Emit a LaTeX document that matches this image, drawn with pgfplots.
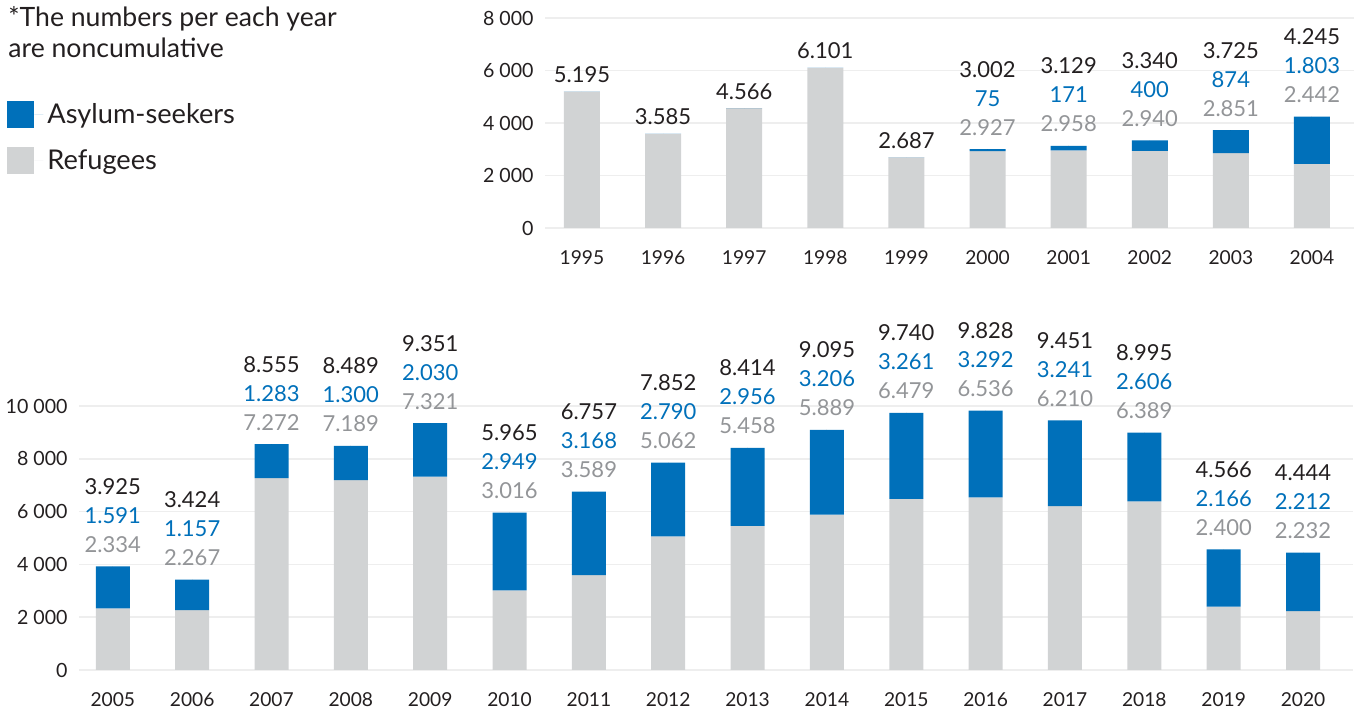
\documentclass[border=0pt]{standalone}
\usepackage{fontspec}
\setmainfont{Lato}
\usepackage{pgfplots}
\pgfplotsset{compat=1.18}
\usepackage{pgfplotstable}

\definecolor{cblue}{HTML}{0070BA}
\definecolor{cgray}{HTML}{D1D3D4}
\definecolor{lgray}{HTML}{939598}
\definecolor{tblack}{HTML}{231F20}
\definecolor{gridc}{HTML}{EEEEEE}

\pgfplotstableread{
x ref asy tot
0 5195 0 5195
1 3585 0 3585
2 4566 0 4566
3 6101 0 6101
4 2687 0 2687
5 2927 75 3002
6 2958 171 3129
7 2940 400 3340
8 2851 874 3725
9 2442 1803 4245
}\topdata

\pgfplotstableread{
x ref asy tot
0 2334 1591 3925
1 2267 1157 3424
2 7272 1283 8555
3 7189 1300 8489
4 7321 2030 9351
5 3016 2949 5965
6 3589 3168 6757
7 5062 2790 7852
8 5458 2956 8414
9 5889 3206 9095
10 6479 3261 9740
11 6536 3292 9828
12 6210 3241 9451
13 6389 2606 8995
14 2400 2166 4566
15 2232 2212 4444
}\botdata

\pgfplotsset{
  base/.style={
    scale only axis, ymin=0, clip=false,
    scaled y ticks=false,
    axis line style={draw=none}, tick style={draw=none},
    ymajorgrids, major grid style={color=gridc, line width=0.75pt},
    /pgf/number format/assume math mode=true,
    /pgf/number format/1000 sep={\ },
    yticklabel style={font=\fontsize{9.8}{11}\selectfont, text=tblack, inner sep=0pt, anchor=east, xshift=-5.5pt},
    xticklabel style={font=\fontsize{9.6}{11}\selectfont, text=tblack, inner sep=0pt, anchor=base, yshift=-18.5pt},
  },
  bars/.style={ybar, stack plots=y, bar shift=0pt, draw=none, line width=0pt},
  lab/.style={forget plot, stack plots=false, only marks, mark=*, mark size=0pt, mark options={draw=none, fill=none},
    point meta=explicit,
    nodes near coords={\pgfmathprintnumber[fixed, precision=0, 1000 sep={.}]{\pgfplotspointmeta}},
    every node near coord/.append style={anchor=base, inner sep=0pt, font=\fontsize{11}{13}\selectfont}},
}

\begin{document}
\begin{tikzpicture}
\useasboundingbox (0pt,0pt) rectangle (679.5pt,355pt);

\node[anchor=base west, inner sep=0pt, text=tblack, font=\fontsize{13.3}{15}\selectfont] at (4pt,341.5pt) {*The numbers per each year};
\node[anchor=base west, inner sep=0pt, text=tblack, font=\fontsize{13.3}{15}\selectfont] at (4pt,326pt) {are noncumulative};

\begin{axis}[base, at={(272.5pt,241pt)}, anchor=south west,
  width=404.5pt, height=105pt, ymax=8000,
  xmin=-0.456, xmax=9.518,
  ytick={0,2000,4000,6000,8000},
  xtick={0,...,9},
  xticklabels={1995,1996,1997,1998,1999,2000,2001,2002,2003,2004},
  bar width=18pt,
  legend style={at={(axis description cs:-0.665,0.614)}, anchor=north west,
    draw=none, fill=none, inner sep=0pt, row sep=7.5pt,
    font=\fontsize{13.6}{15}\selectfont, text=tblack,
    cells={anchor=west}},
  legend image code/.code={\fill[#1] (0pt,-6.75pt) rectangle (13.5pt,6.75pt); \path (13.5pt,0pt) -- (18pt,0pt);},
  reverse legend,
]
\addplot[bars, fill=cgray] table[x=x, y=ref]{\topdata};
\addlegendentry{Refugees}
\addplot[bars, fill=cblue] table[x=x, y=asy]{\topdata};
\addlegendentry{Asylum-seekers}
\addplot[lab, restrict x to domain=0:4, every node near coord/.append style={text=tblack, yshift=4.5pt}] table[x=x, y=tot, meta=tot]{\topdata};
\addplot[lab, restrict x to domain=5:9, every node near coord/.append style={text=lgray, yshift=7pt}] table[x=x, y=tot, meta=ref]{\topdata};
\addplot[lab, restrict x to domain=5:9, every node near coord/.append style={text=cblue, yshift=21.5pt}] table[x=x, y=tot, meta=asy]{\topdata};
\addplot[lab, restrict x to domain=5:9, every node near coord/.append style={text=tblack, yshift=36pt}] table[x=x, y=tot, meta=tot]{\topdata};
\end{axis}

\begin{axis}[base, at={(39.5pt,20pt)}, anchor=south west,
  width=637pt, height=132pt, ymax=10000,
  xmin=-0.426, xmax=15.63,
  ytick={0,2000,4000,6000,8000,10000},
  xtick={0,...,15},
  xticklabels={2005,2006,2007,2008,2009,2010,2011,2012,2013,2014,2015,2016,2017,2018,2019,2020},
  bar width=17pt,
]
\addplot[bars, fill=cgray] table[x=x, y=ref]{\botdata};
\addplot[bars, fill=cblue] table[x=x, y=asy]{\botdata};
\addplot[lab, every node near coord/.append style={text=lgray, yshift=7pt}] table[x=x, y=tot, meta=ref]{\botdata};
\addplot[lab, every node near coord/.append style={text=cblue, yshift=21.5pt}] table[x=x, y=tot, meta=asy]{\botdata};
\addplot[lab, every node near coord/.append style={text=tblack, yshift=36pt}] table[x=x, y=tot, meta=tot]{\botdata};
\end{axis}
\end{tikzpicture}
\end{document}
